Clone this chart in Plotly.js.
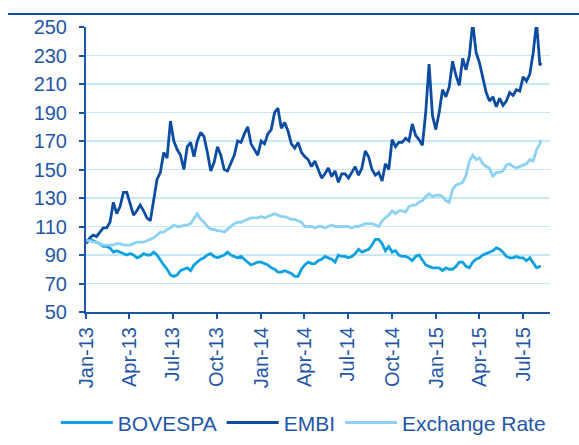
<!DOCTYPE html>
<html>
<head>
<meta charset="utf-8">
<script src="https://cdn.plot.ly/plotly-3.0.1.min.js"></script>
<style>
html,body{margin:0;padding:0;background:#fff;}
#chart{width:579px;height:445px;}
</style>
</head>
<body>
<div id="chart"></div>
<script>
const dates = [
"2013-01-02","2013-01-09","2013-01-16","2013-01-23","2013-01-30","2013-02-06","2013-02-13","2013-02-20","2013-02-27","2013-03-06",
"2013-03-13","2013-03-20","2013-03-27","2013-04-03","2013-04-10","2013-04-17","2013-04-24","2013-05-01","2013-05-08","2013-05-15",
"2013-05-22","2013-05-29","2013-06-05","2013-06-12","2013-06-19","2013-06-26","2013-07-03","2013-07-10","2013-07-17","2013-07-24",
"2013-07-31","2013-08-07","2013-08-14","2013-08-21","2013-08-28","2013-09-04","2013-09-11","2013-09-18","2013-09-25","2013-10-02",
"2013-10-09","2013-10-16","2013-10-23","2013-10-30","2013-11-06","2013-11-13","2013-11-20","2013-11-27","2013-12-04","2013-12-11",
"2013-12-18","2013-12-25","2014-01-01","2014-01-08","2014-01-15","2014-01-22","2014-01-29","2014-02-05","2014-02-12","2014-02-19",
"2014-02-26","2014-03-05","2014-03-12","2014-03-19","2014-03-26","2014-04-02","2014-04-09","2014-04-16","2014-04-23","2014-04-30",
"2014-05-07","2014-05-14","2014-05-21","2014-05-28","2014-06-04","2014-06-11","2014-06-18","2014-06-25","2014-07-02","2014-07-09",
"2014-07-16","2014-07-23","2014-07-30","2014-08-06","2014-08-13","2014-08-20","2014-08-27","2014-09-03","2014-09-10","2014-09-17",
"2014-09-24","2014-10-01","2014-10-08","2014-10-15","2014-10-22","2014-10-29","2014-11-05","2014-11-12","2014-11-19","2014-11-26",
"2014-12-03","2014-12-10","2014-12-17","2014-12-24","2014-12-31","2015-01-07","2015-01-14","2015-01-21","2015-01-28","2015-02-04",
"2015-02-11","2015-02-18","2015-02-25","2015-03-04","2015-03-11","2015-03-18","2015-03-25","2015-04-01","2015-04-08","2015-04-15",
"2015-04-22","2015-04-29","2015-05-06","2015-05-13","2015-05-20","2015-05-27","2015-06-03","2015-06-10","2015-06-17","2015-06-24",
"2015-07-01","2015-07-08","2015-07-15","2015-07-22","2015-07-29","2015-08-05","2015-08-07"
];

const embi = [
98,102,104,103,106,109,109,113,127,119,
124,134,134,125,118,121,125,121,116,114,
128,143,148,162,158,184,170,164,160,150,
166,169,159,170,176,173,162,149,155,166,
160,150,149,155,160,170,169,175,180,168,
164,160,170,168,175,178,190,193,179,183,
177,168,165,169,162,159,157,152,156,150,
144,147,151,145,149,141,147,147,144,148,
152,146,151,163,159,150,146,148,142,154,
150,171,166,169,169,172,170,182,174,171,
167,190,224,188,178,190,206,201,208,226,
216,209,228,220,230,253,232,225,215,204,
198,201,194,200,195,198,204,202,206,205,
215,212,217,232,253,223,225
];

const bovespa = [
100,101,100,99,98,96,96,95,92,93,
92,91,90,91,90,88,89,91,90,90,
92,90,86,83,80,76,75,76,79,80,
81,79,83,85,87,88,90,91,89,88,
89,90,92,90,89,88,89,87,85,83,
84,85,85,84,83,81,80,78,78,79,
78,77,75,75,80,83,85,84,84,86,
87,89,88,87,85,90,89,89,88,89,
91,94,92,93,94,97,101,101,98,93,
96,92,93,90,89,89,88,86,89,90,
86,83,82,81,81,81,79,81,80,80,
82,85,85,82,81,85,87,88,90,91,
92,93,95,94,92,89,88,88,89,88,
88,86,88,84,81,82,82
];

const exchangeRate = [
100,100,99,99,98,97,97,97,97,98,
98,97,97,97,98,99,99,99,100,101,
102,104,106,106,108,109,111,110,110,111,
111,112,116,119,115,113,110,108,108,107,
107,106,108,110,112,113,113,114,115,116,
116,116,117,116,117,118,119,118,117,117,
116,115,115,114,113,110,110,110,109,110,
110,109,110,111,110,110,110,110,110,109,
110,110,111,112,112,112,111,110,114,116,
118,121,119,121,121,120,124,125,125,127,
128,131,133,131,132,132,131,128,127,136,
139,140,141,146,156,160,157,158,154,152,
151,145,148,148,149,153,154,152,151,152,
153,154,157,156,164,168,171
];

const seriesNames = ["BOVESPA", "EMBI", "Exchange Rate"];
const yTicks = [50,70,90,110,130,150,170,190,210,230,250];

const textColor = "#1f56a8";
const axisColor = "#1a55a6";
const font = "Arial, 'Liberation Sans', sans-serif";

const traces = [
  {x: dates, y: bovespa, name: seriesNames[0], type: "scatter", mode: "lines",
   line: {color: "#0ea1e2", width: 2.8}},
  {x: dates, y: embi, name: seriesNames[1], type: "scatter", mode: "lines",
   line: {color: "#0c4da2", width: 2.8}},
  {x: dates, y: exchangeRate, name: seriesNames[2], type: "scatter", mode: "lines",
   line: {color: "#8dd2f4", width: 2.8}}
];

const layout = {
  width: 579, height: 445,
  margin: {l: 86, r: 29, t: 27, b: 133, autoexpand: false},
  paper_bgcolor: "#fff", plot_bgcolor: "#fff",
  font: {family: font, size: 20, color: textColor},
  showlegend: true,
  legend: {orientation: "h", x: -0.065, xanchor: "left",
           y: -0.389, yanchor: "middle",
           itemwidth: 52, bgcolor: "rgba(0,0,0,0)",
           font: {family: font, size: 21, color: textColor}, traceorder: "normal"},
  xaxis: {
    type: "date", range: ["2013-01-01", "2015-08-26"], automargin: false,
    tick0: "2013-01-01", dtick: "M3", tickformat: "%b-%y", tickangle: -90,
    showgrid: false, showline: true, linecolor: axisColor, linewidth: 2,
    ticks: "outside", ticklen: 5, tickcolor: axisColor, tickwidth: 2,
    tickfont: {family: font, size: 20, color: textColor}, zeroline: false
  },
  yaxis: {
    range: [50, 250], tickvals: yTicks, automargin: false,
    showgrid: true, gridcolor: "#c9e8f7", gridwidth: 1.5,
    showline: true, linecolor: axisColor, linewidth: 2,
    ticks: "outside", ticklen: 5, tickcolor: axisColor, tickwidth: 2,
    ticklabelstandoff: 8,
    tickfont: {family: font, size: 20, color: textColor}, zeroline: false
  },
  shapes: [
    {type: "line", xref: "paper", yref: "paper", x0: -0.168, x1: 1.07, y0: 1.046, y1: 1.046,
     line: {color: "#0c4da2", width: 2}}
  ]
};

Plotly.newPlot("chart", traces, layout, {displayModeBar: false, staticPlot: true});
</script>
</body>
</html>
